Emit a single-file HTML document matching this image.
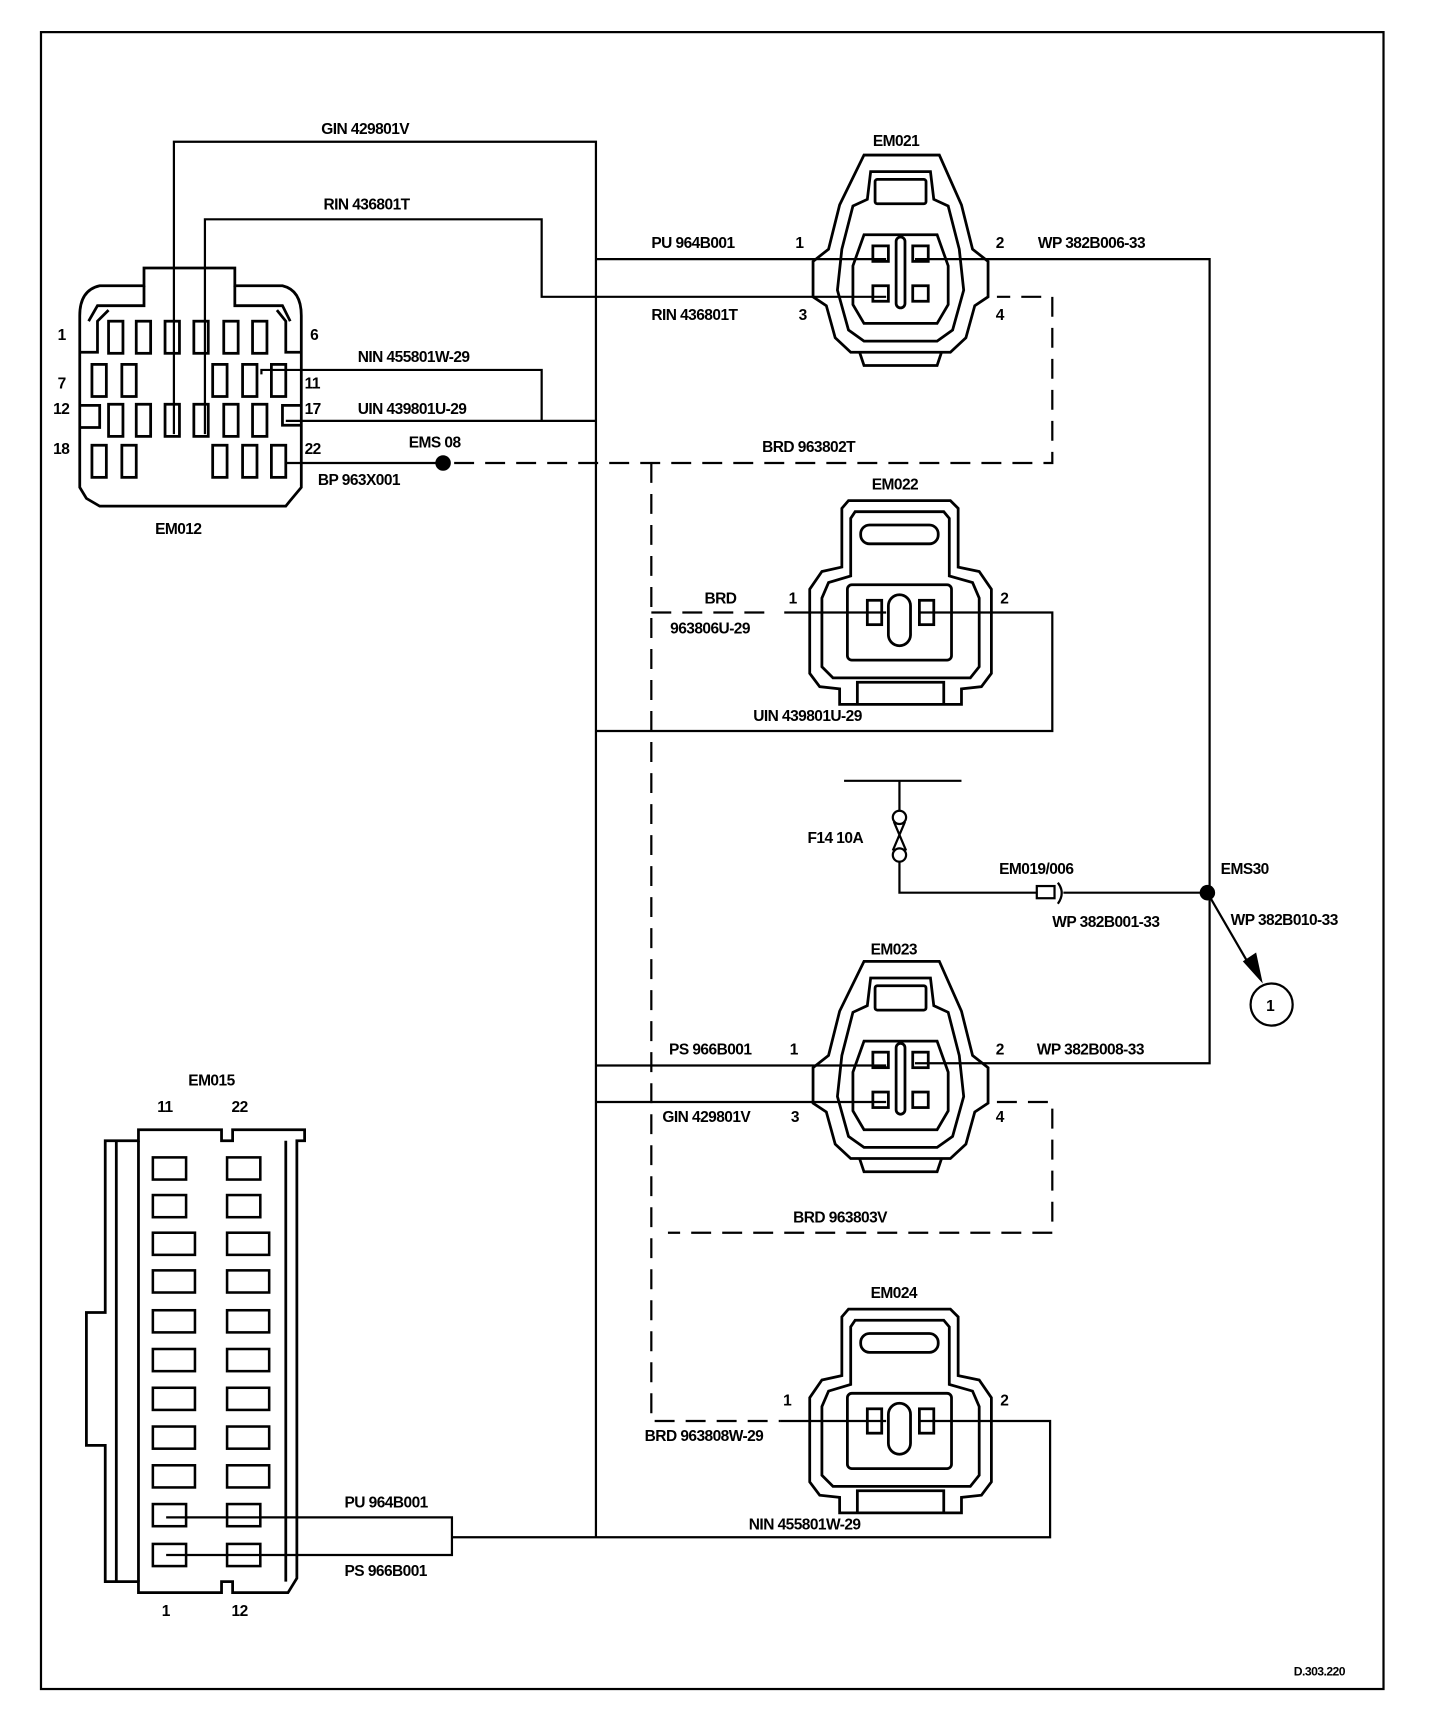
<!DOCTYPE html>
<html><head><meta charset="utf-8"><style>
html,body{margin:0;padding:0;background:#fff}
svg{display:block}
text{font-family:"Liberation Sans",Arial,sans-serif;font-weight:bold;font-size:14px;fill:#000;letter-spacing:-0.5px}
</style></head><body>
<svg width="1440" height="1730" viewBox="0 0 1300 1562" preserveAspectRatio="none" xmlns="http://www.w3.org/2000/svg">
<defs>
<g id="c4" fill="none" stroke="#000" stroke-width="2.5">
 <path d="M780,140 L848,140 L868,185 L878,225 L892,236 L892,268 L880,276 L872,305 L858,318 L768,318 L754,305 L746,276 L734,268 L734,236 L748,225 L758,185 Z"/>
 <path d="M776,318 L780,330 L846,330 L850,318"/>
 <path d="M786,155 L840,155 L843,180 L856,186 L866,225 L870,262 L860,298 L846,308 L780,308 L766,298 L756,262 L760,225 L770,186 L783,180 Z"/>
 <rect x="790" y="162" width="46" height="22" rx="2"/>
 <path d="M780,212 L846,212 L856,240 L856,275 L846,292 L780,292 L770,275 L770,240 Z"/>
 <rect x="788" y="222" width="14" height="14"/><rect x="824" y="222" width="14" height="14"/>
 <rect x="788" y="258" width="14" height="14"/><rect x="824" y="258" width="14" height="14"/>
 <rect x="809" y="214" width="8" height="64" rx="4"/>
</g>
<g id="c2" fill="none" stroke="#000" stroke-width="2.5">
 <path d="M766,452 L858,452 L865,459 L865,512 L884,516 L895,532 L895,608 L886,620 L868,622 L868,636 L758,636 L758,622 L740,620 L731,608 L731,532 L742,516 L760,512 L760,459 Z"/>
 <path d="M772,462 L852,462 L857,468 L857,520 L878,526 L884,540 L884,602 L876,612 L752,612 L742,602 L742,540 L748,526 L768,520 L768,468 Z"/>
 <rect x="777" y="474" width="70" height="17" rx="8"/>
 <rect x="765" y="528" width="94" height="68" rx="4"/>
 <rect x="783" y="542" width="13" height="22"/><rect x="830" y="542" width="13" height="22"/>
 <rect x="802" y="537" width="20" height="46" rx="10"/>
 <path d="M774,636 L774,616 L852,616 L852,636"/>
</g>
</defs>

<rect x="37" y="29" width="1212" height="1496" fill="none" stroke="#000" stroke-width="2"/>

<!-- EM012 -->
<g fill="none" stroke="#000" stroke-width="2.5">
 <path d="M130,242 L212,242 L212,258 L255,258 Q272,262 272,285 L272,440 L262,452 L258,457 L90,457 L78,450 L72,440 L72,285 Q72,262 90,258 L130,258 Z"/>
 <path d="M130,258 L130,276 L88,276 L80,290"/>
 <path d="M212,258 L212,276 L255,276 L262,290"/>
 <path d="M72,318 L88,318 L88,290 L98,280"/><path d="M272,318 L258,318 L258,290 L250,280"/>
 <rect x="98" y="290" width="13" height="29"/><rect x="123" y="290" width="13" height="29"/>
 <rect x="149" y="290" width="13" height="29"/><rect x="175" y="290" width="13" height="29"/>
 <rect x="202" y="290" width="13" height="29"/><rect x="228" y="290" width="13" height="29"/>
 <rect x="83" y="329" width="13" height="29"/><rect x="110" y="329" width="13" height="29"/>
 <rect x="192" y="329" width="13" height="29"/><rect x="219" y="329" width="13" height="29"/><rect x="245" y="329" width="13" height="29"/>
 <rect x="98" y="365" width="13" height="29"/><rect x="123" y="365" width="13" height="29"/>
 <rect x="149" y="365" width="13" height="29"/><rect x="175" y="365" width="13" height="29"/>
 <rect x="202" y="365" width="13" height="29"/><rect x="228" y="365" width="13" height="29"/>
 <path d="M72,366 L90,366 L90,386 L72,386"/><path d="M272,366 L255,366 L255,384 L272,384"/>
 <rect x="83" y="402" width="13" height="29"/><rect x="110" y="402" width="13" height="29"/>
 <rect x="192" y="402" width="13" height="29"/><rect x="219" y="402" width="13" height="29"/><rect x="245" y="402" width="13" height="29"/>
</g>
<text x="52" y="307">1</text><text x="280" y="307">6</text>
<text x="52" y="351">7</text><text x="275" y="351">11</text>
<text x="48" y="374">12</text><text x="275" y="374">17</text>
<text x="48" y="410">18</text><text x="275" y="410">22</text>
<text x="140" y="482">EM012</text>

<g fill="none" stroke="#000" stroke-width="2">
 <path d="M157,392 L157,128 L538,128 L538,1388"/>
 <path d="M185,392 L185,198 L489,198 L489,268 L800,268"/>
 <path d="M538,234 L800,234"/>
 <path d="M236,338 L236,334 L489,334 L489,380"/>
 <path d="M258,380 L538,380"/>
 <path d="M258,418 L400,418"/>
 <path d="M826,234 L1092,234 L1092,960 L826,960"/>
 <path d="M538,962 L800,962"/>
 <path d="M538,995 L800,995"/>
 <path d="M708,553 L800,553"/><path d="M830,553 L950,553 L950,660 L538,660"/>
 <path d="M762,705 L868,705"/>
 <path d="M812,705 L812,732"/><path d="M812,778 L812,806 L936,806"/>
 <path d="M960,806 L1090,806"/>
 <path d="M1090,806 L1130,875"/>
 <path d="M705,1283 L800,1283"/><path d="M830,1283 L948,1283 L948,1388 L408,1388"/>
 <path d="M150,1370 L408,1370 L408,1404 L150,1404"/>
</g>
<circle cx="400" cy="418" r="7" fill="#000"/>
<circle cx="1090" cy="806" r="7" fill="#000"/>
<path d="M1122,868 L1140,888 L1134,860 Z" fill="#000"/>
<circle cx="1148" cy="907" r="19" fill="none" stroke="#000" stroke-width="2"/>
<text x="1143" y="913">1</text>

<g fill="none" stroke="#000" stroke-width="2">
 <circle cx="812" cy="738" r="6"/><circle cx="812" cy="772" r="6"/>
 <path d="M807,742 L818,768 M817,742 L806,768"/>
 <rect x="936" y="800" width="16" height="11"/>
 <path d="M955,797 Q962,806 955,816"/>
</g>

<g fill="none" stroke="#000" stroke-width="2" stroke-dasharray="18,10">
 <path d="M410,418 L950,418 L950,268 L900,268"/>
 <path d="M588,418 L588,1283 L705,1283"/>
 <path d="M588,553 L700,553"/>
 <path d="M900,995 L950,995 L950,1113 L603,1113"/>
</g>

<use href="#c4"/>
<use href="#c4" transform="translate(0,728)"/>
<use href="#c2"/>
<use href="#c2" transform="translate(0,730)"/>

<g fill="none" stroke="#000" stroke-width="2.5">
 <path d="M125,1020 L200,1020 L200,1030 L210,1030 L210,1020 L275,1020 L275,1030 L268,1030 L268,1425 L260,1438 L210,1438 L210,1428 L200,1428 L200,1438 L125,1438 L125,1428 L95,1428 L95,1305 L78,1305 L78,1185 L95,1185 L95,1030 L125,1030 Z"/>
 <path d="M105,1030 L105,1428 M125,1030 L125,1428 M258,1030 L258,1428"/>
</g>
<g fill="none" stroke="#000" stroke-width="2.3">
 <rect x="138" y="1045" width="30" height="20"/><rect x="205" y="1045" width="30" height="20"/>
 <rect x="138" y="1079" width="30" height="20"/><rect x="205" y="1079" width="30" height="20"/>
 <rect x="138" y="1113" width="38" height="20"/><rect x="205" y="1113" width="38" height="20"/>
 <rect x="138" y="1147" width="38" height="20"/><rect x="205" y="1147" width="38" height="20"/>
 <rect x="138" y="1183" width="38" height="20"/><rect x="205" y="1183" width="38" height="20"/>
 <rect x="138" y="1218" width="38" height="20"/><rect x="205" y="1218" width="38" height="20"/>
 <rect x="138" y="1253" width="38" height="20"/><rect x="205" y="1253" width="38" height="20"/>
 <rect x="138" y="1288" width="38" height="20"/><rect x="205" y="1288" width="38" height="20"/>
 <rect x="138" y="1323" width="38" height="20"/><rect x="205" y="1323" width="38" height="20"/>
 <rect x="138" y="1358" width="30" height="20"/><rect x="205" y="1358" width="30" height="20"/>
 <rect x="138" y="1394" width="30" height="20"/><rect x="205" y="1394" width="30" height="20"/>
</g>
<text x="170" y="980">EM015</text>
<text x="142" y="1004">11</text><text x="209" y="1004">22</text>
<text x="146" y="1459">1</text><text x="209" y="1459">12</text>

<text x="290" y="121">GIN 429801V</text>
<text x="292" y="189">RIN 436801T</text>
<text x="323" y="327">NIN 455801W-29</text>
<text x="323" y="374">UIN 439801U-29</text>
<text x="369" y="404">EMS 08</text>
<text x="287" y="438">BP 963X001</text>
<text x="788" y="132">EM021</text>
<text x="588" y="224">PU 964B001</text><text x="718" y="224">1</text>
<text x="899" y="224">2</text><text x="937" y="224">WP 382B006-33</text>
<text x="588" y="289">RIN 436801T</text><text x="721" y="289">3</text><text x="899" y="289">4</text>
<text x="688" y="408">BRD 963802T</text>
<text x="787" y="442">EM022</text>
<text x="636" y="545">BRD</text><text x="712" y="545">1</text><text x="903" y="545">2</text>
<text x="605" y="572">963806U-29</text>
<text x="680" y="651">UIN 439801U-29</text>
<text x="729" y="761">F14 10A</text>
<text x="902" y="789">EM019/006</text>
<text x="1102" y="789">EMS30</text>
<text x="950" y="837">WP 382B001-33</text>
<text x="1111" y="835">WP 382B010-33</text>
<text x="786" y="862">EM023</text>
<text x="604" y="952">PS 966B001</text><text x="713" y="952">1</text>
<text x="899" y="952">2</text><text x="936" y="952">WP 382B008-33</text>
<text x="598" y="1013">GIN 429801V</text><text x="714" y="1013">3</text><text x="899" y="1013">4</text>
<text x="716" y="1104">BRD 963803V</text>
<text x="786" y="1172">EM024</text>
<text x="707" y="1269">1</text><text x="903" y="1269">2</text>
<text x="582" y="1301">BRD 963808W-29</text>
<text x="676" y="1381">NIN 455801W-29</text>
<text x="311" y="1361">PU 964B001</text>
<text x="311" y="1423">PS 966B001</text>
<text x="1168" y="1513" style="font-size:11px">D.303.220</text>
</svg>
</body></html>
